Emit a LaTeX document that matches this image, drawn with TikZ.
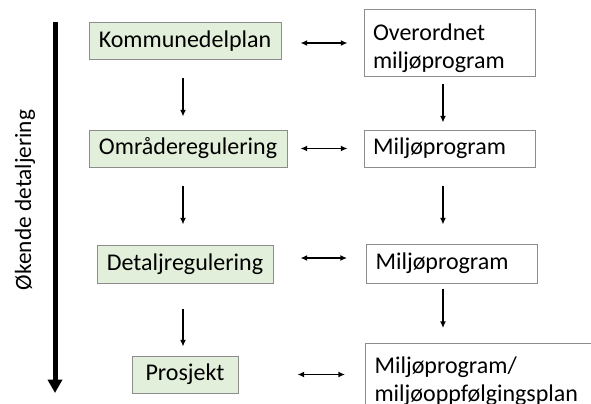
\documentclass[tikz,border=0pt]{standalone}
\usepackage{fontspec}
\setmainfont{Carlito}
\usetikzlibrary{arrows.meta}

\definecolor{planfill}{RGB}{226,239,218}
\definecolor{boxline}{RGB}{140,140,140}

\tikzset{every picture/.style={line width=0.75pt}}
\tikzset{
	planbox/.style={draw=boxline, fill=planfill, inner sep=0pt, minimum height=27.75pt, font=\fontsize{18}{21}\selectfont},
	progbox/.style={draw=boxline, fill=white, inner xsep=6.75pt, inner ysep=0pt, text width=114.75pt, align=left, font=\fontsize{18}{21}\selectfont},
	link/.style={line width=1.1pt, {Latex[length=5pt,width=4.5pt]}-{Latex[length=5pt,width=4.5pt]}},
	down/.style={line width=1.1pt, -{Latex[length=5pt,width=4.5pt]}},
}

\begin{document}
\begin{tikzpicture}[x=0.75pt,y=0.75pt,yscale=-1,xscale=1]
		\clip (0,0) rectangle (591,403);

		% Plan levels
		\node [planbox, minimum width=144pt] (komm) at (185,41) {Kommunedelplan};
		\node [planbox, minimum width=148.5pt] (omr) at (188,148.5) {Områderegulering};
		\node [planbox, minimum width=132pt, minimum height=28.5pt] (det) at (185,264) {Detaljregulering};
		\node [planbox, minimum width=79.5pt] (pro) at (185,374.5) {Prosjekt};

		% Environmental programmes
		\node [progbox, minimum height=49.5pt] (over) at (449.5,43) {\rule{0pt}{20pt}Overordnet\\miljøprogram};
		\node [progbox, minimum height=27.75pt] (mil1) at (449.5,148.5) {Miljøprogram};
		\node [progbox, minimum height=29.25pt] (mil2) at (452,263.5) {Miljøprogram};
		\node [progbox, text width=166.5pt, minimum height=52.5pt, anchor=north west] (mopp) at (365,343) {\rule{0pt}{17pt}Miljøprogram/\\miljøoppfølgingsplan};

		% Side label and big arrow
		\node [rotate=90, font=\fontsize{17.5}{21}\selectfont] (lbl) at (25,200) {Økende detaljering};
		\coordinate (atop) at (55,22);
		\coordinate (abot) at (55,393);
		\draw [line width=3.75pt, -{Triangle[length=10pt,width=10.5pt]}] (atop) -- (abot);

		% Down arrows, left column
		\draw [down, shorten <=13.5pt, shorten >=9.75pt] ([xshift=-1.5pt]komm.south) -- ([xshift=-1.5pt]komm.south |- omr.north);
		\draw [down, shorten <=13.5pt, shorten >=15pt] ([xshift=-1.5pt]det.north |- omr.south) -- ([xshift=-1.5pt]det.north);
		\draw [down, shorten <=18.75pt, shorten >=6.75pt] ([xshift=-1.5pt]det.south) -- ([xshift=-1.5pt]det.south |- pro.north);

		% Down arrows, right column
		\draw [down, shorten <=5.25pt, shorten >=5.25pt] ([xshift=-4.9pt]over.south) -- ([xshift=-4.9pt]over.south |- mil1.north);
		\draw [down, shorten <=13.5pt, shorten >=14.25pt] ([xshift=-4.9pt]mil1.south) -- ([xshift=-4.9pt]mil1.south |- mil2.north);
		\draw [down, shorten <=3.75pt, shorten >=11.25pt] ([xshift=-6.75pt]mil2.south) -- ([xshift=-6.75pt]mil2.south |- mopp.north);

		% Links between levels and programmes
		\draw [link, shorten <=14.25pt, shorten >=12pt] (over.west -| komm.east) -- (over.west);
		\draw [link, shorten <=9.75pt, shorten >=12pt] (omr.east) -- (mil1.west);
		\draw [link, shorten <=20.25pt, shorten >=14.25pt] ([yshift=-4.5pt]det.east) -- ([yshift=-4.5pt]det.east -| mil2.west);
		\draw [link, shorten <=44.25pt, shorten >=15pt] (pro.east) -- (pro.east -| mopp.west);

	\end{tikzpicture}
\end{document}
